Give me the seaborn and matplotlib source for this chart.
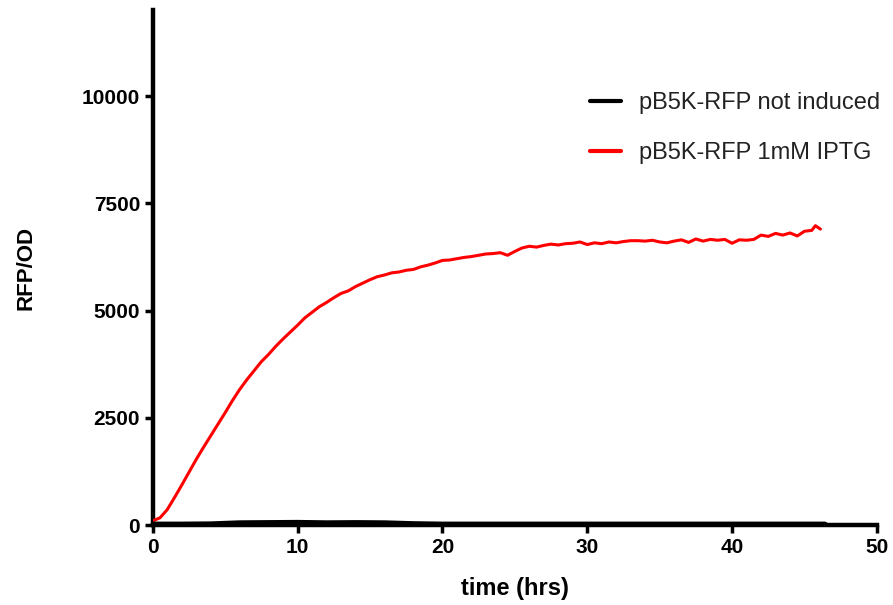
import matplotlib
matplotlib.use("Agg")
import matplotlib.pyplot as plt
import seaborn as sns
import pandas as pd

# ---- data ----
time_red = [0.0, 0.5, 1.0, 1.5, 2.0, 2.5, 3.0, 3.5, 4.0, 4.5, 5.0, 5.5, 6.0, 6.5, 7.0, 7.5,
            8.0, 8.5, 9.0, 9.5, 10.0, 10.5, 11.0, 11.5, 12.0, 12.5, 13.0, 13.5, 14.0, 14.5,
            15.0, 15.5, 16.0, 16.5, 17.0, 17.5, 18.0, 18.5, 19.0, 19.5, 20.0, 20.5, 21.0,
            21.5, 22.0, 22.5, 23.0, 23.5, 24.0, 24.5, 25.0, 25.5, 26.0, 26.5, 27.0, 27.5,
            28.0, 28.5, 29.0, 29.5, 30.0, 30.5, 31.0, 31.5, 32.0, 32.5, 33.0, 33.5, 34.0,
            34.5, 35.0, 35.5, 36.0, 36.5, 37.0, 37.5, 38.0, 38.5, 39.0, 39.5, 40.0, 40.5,
            41.0, 41.5, 42.0, 42.5, 43.0, 43.5, 44.0, 44.5, 45.0, 45.5, 45.75, 46.1]
rfp_induced = [100, 170, 360, 640, 930, 1230, 1530, 1810, 2080, 2350, 2620, 2900, 3160, 3390,
               3600, 3810, 3980, 4170, 4340, 4500, 4660, 4830, 4960, 5090, 5190, 5300, 5400,
               5460, 5560, 5640, 5720, 5790, 5830, 5880, 5900, 5940, 5960, 6020, 6060, 6110,
               6170, 6180, 6210, 6240, 6260, 6290, 6320, 6330, 6350, 6290, 6380, 6460, 6500,
               6480, 6520, 6550, 6530, 6560, 6570, 6600, 6540, 6580, 6560, 6600, 6580, 6610,
               6630, 6630, 6620, 6640, 6600, 6580, 6620, 6650, 6590, 6670, 6620, 6660, 6640,
               6660, 6570, 6650, 6640, 6660, 6760, 6730, 6800, 6760, 6810, 6740, 6850, 6870,
               6980, 6900]

time_black = [0.0, 2.0, 4.0, 6.0, 8.0, 10.0, 12.0, 14.0, 16.0, 18.0, 20.0, 22.0, 24.0,
              26.0, 28.0, 30.0, 32.0, 34.0, 36.0, 38.0, 40.0, 42.0, 44.0, 46.4]
rfp_not_induced = [10, 10, 15, 40, 45, 50, 40, 45, 40, 20, 10, 10, 10, 10, 10, 10, 10, 10,
                   10, 10, 10, 10, 10, 10]

series_names = ["pB5K-RFP not induced", "pB5K-RFP 1mM IPTG"]
x_ticks = [0, 10, 20, 30, 40, 50]
y_ticks = [0, 2500, 5000, 7500, 10000]

df = pd.concat([
    pd.DataFrame({"time": time_black, "RFP/OD": rfp_not_induced, "series": series_names[0]}),
    pd.DataFrame({"time": time_red, "RFP/OD": rfp_induced, "series": series_names[1]}),
])

sns.set_style("ticks")
plt.rcParams["font.family"] = ["Liberation Sans", "DejaVu Sans"]
plt.rcParams["text.color"] = "black"
plt.rcParams["axes.labelcolor"] = "black"
plt.rcParams["xtick.color"] = "black"
plt.rcParams["ytick.color"] = "black"

fig = plt.figure(figsize=(8.93, 6.05), dpi=100)
ax = fig.add_axes([0.171, 0.132, 0.811, 0.851])

sns.lineplot(data=df, x="time", y="RFP/OD", hue="series", hue_order=series_names,
             palette={series_names[0]: "black", series_names[1]: "#ff0000"},
             ax=ax, estimator=None, sort=False)
lines = ax.get_lines()
lines[0].set_linewidth(4.5)
lines[1].set_linewidth(2.2)
lines[1].set_zorder(3)
lines[0].set_zorder(4)

ax.set_xlim(0, 50)
ax.set_ylim(0, 12000)
ax.set_xticks(x_ticks)
ax.set_yticks(y_ticks)
ax.set_xticklabels([str(t) for t in x_ticks], fontsize=15, fontweight="bold")
ax.set_yticklabels([str(t) for t in y_ticks], fontsize=15, fontweight="bold")
ax.tick_params(axis="both", direction="out", length=6, width=2.5, colors="black",
               labelcolor="black", pad=3)

for side in ["left", "bottom"]:
    ax.spines[side].set_linewidth(3.2)
    ax.spines[side].set_color("black")
    ax.spines[side].set_clip_on(False)
sns.despine(ax=ax)

ax.set_xlabel("time (hrs)", fontsize=17, fontweight="bold", labelpad=15, color="black")
ax.set_ylabel("RFP/OD", fontsize=16, fontweight="bold", labelpad=33, color="black")

leg = ax.legend(title=None, frameon=False, fontsize=17, loc="upper left",
                bbox_to_anchor=(590 / 893, 1 - 92 / 605), bbox_transform=fig.transFigure,
                borderaxespad=0, borderpad=0, labelspacing=1.2, handlelength=1.33,
                handletextpad=0.75)
for h in leg.get_lines():
    h.set_linewidth(3)
for t in leg.get_texts():
    t.set_color("#222222")

fig.savefig("out.png", dpi=100)
